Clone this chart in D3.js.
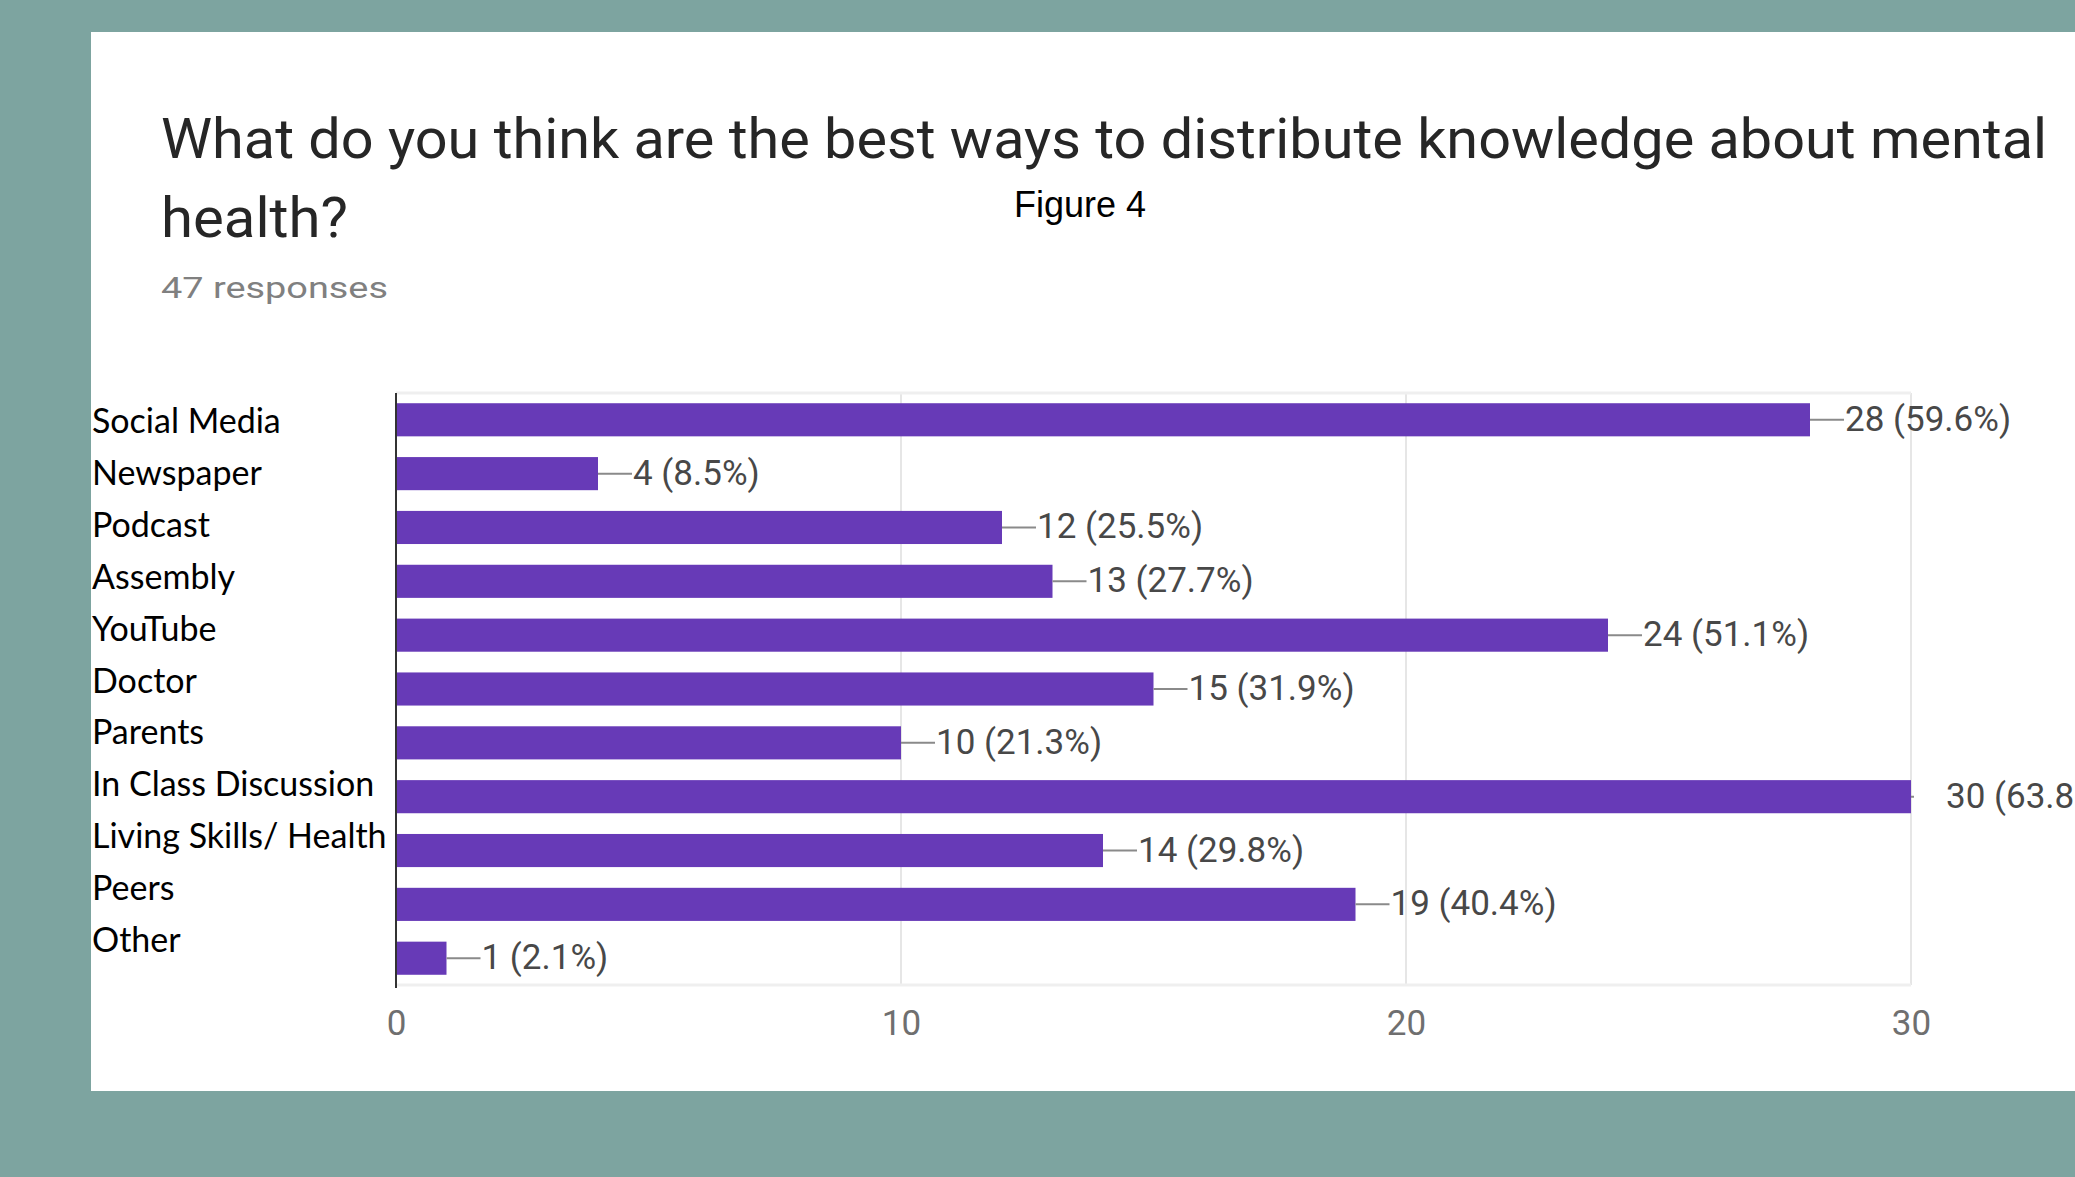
<!DOCTYPE html>
<html>
<head>
<meta charset="utf-8">
<script src="https://cdn.jsdelivr.net/npm/d3@7/dist/d3.min.js"></script>
<style>
  html, body { margin: 0; padding: 0; background: #7da4a0; }
  svg { display: block; }
</style>
</head>
<body>
<svg id="chart" width="2075" height="1177"></svg>
<script>
// Survey answers: number of respondents choosing each channel
const categories = ["Social Media", "Newspaper", "Podcast", "Assembly", "YouTube", "Doctor",
                    "Parents", "In Class Discussion", "Living Skills/ Health", "Peers", "Other"];
const counts = [28, 4, 12, 13, 24, 15, 10, 30, 14, 19, 1];
const percents = ["59.6%", "8.5%", "25.5%", "27.7%", "51.1%", "31.9%", "21.3%", "63.8%", "29.8%", "40.4%", "2.1%"];
const xTicks = [0, 10, 20, 30];
const totalResponses = 47;

const svg = d3.select("#chart");

// white card
svg.append("rect").attr("x", 91).attr("y", 32).attr("width", 2075 - 91).attr("height", 1091 - 32)
  .attr("fill", "#ffffff");

// heading
const titleFont = "Roboto, 'Liberation Sans', sans-serif";
svg.append("text").attr("x", 161).attr("y", 158)
  .attr("font-family", titleFont).attr("font-size", 56).attr("fill", "#262626")
  .attr("textLength", 1886).attr("lengthAdjust", "spacingAndGlyphs")
  .text("What do you think are the best ways to distribute knowledge about mental");
svg.append("text").attr("x", 161).attr("y", 237)
  .attr("font-family", titleFont).attr("font-size", 56).attr("fill", "#262626")
  .attr("textLength", 187).attr("lengthAdjust", "spacingAndGlyphs")
  .text("health?");
svg.append("text").attr("x", 161).attr("y", 298)
  .attr("font-family", titleFont).attr("font-size", 30).attr("fill", "#808080")
  .attr("textLength", 227).attr("lengthAdjust", "spacingAndGlyphs")
  .text(`${totalResponses} responses`);
svg.append("text").attr("x", 1080).attr("y", 217).attr("text-anchor", "middle")
  .attr("font-family", "'Liberation Sans', Arial, sans-serif").attr("font-size", 36).attr("fill", "#000")
  .text("Figure 4");

// plot area
const plot = { left: 396, right: 1911, top: 393, bottom: 985 };
const x = d3.scaleLinear().domain([0, 30]).range([plot.left, plot.right]);
const y = d3.scaleBand().domain(categories).range([plot.top, plot.bottom])
  .paddingInner(0.385).paddingOuter(0.19);
const labelY = d3.scalePoint().domain(categories).range([433, 952]);

// light frame and vertical gridlines
const grid = svg.append("g");
grid.selectAll("line.v").data(xTicks.slice(1)).join("line")
  .attr("x1", d => x(d)).attr("x2", d => x(d))
  .attr("y1", plot.top).attr("y2", plot.bottom)
  .attr("stroke", "#e6e6e6").attr("stroke-width", 2);
grid.selectAll("line.h").data([plot.top, plot.bottom]).join("line")
  .attr("x1", plot.left).attr("x2", plot.right)
  .attr("y1", d => d).attr("y2", d => d)
  .attr("stroke", "#efefef").attr("stroke-width", 3);

// x-axis tick labels
const xAxis = d3.axisBottom(x).tickValues(xTicks).tickSize(0).tickPadding(0);
const gx = svg.append("g").attr("transform", `translate(0, ${1035})`).call(xAxis);
gx.select(".domain").remove();
gx.selectAll("text").attr("dy", 0).attr("y", 0)
  .attr("font-family", titleFont).attr("font-size", 35).attr("fill", "#6f6f6f");

// bars
svg.append("g").selectAll("rect").data(categories).join("rect")
  .attr("x", x(0))
  .attr("y", d => y(d))
  .attr("width", (d, i) => x(counts[i]) - x(0))
  .attr("height", y.bandwidth())
  .attr("fill", "#673ab7");

// leader lines, cut off at the right edge of the plot
svg.append("defs").append("clipPath").attr("id", "plotClip")
  .append("rect").attr("x", plot.left).attr("y", 0).attr("width", plot.right - plot.left + 3).attr("height", 1177);
svg.append("g").attr("clip-path", "url(#plotClip)")
  .selectAll("line").data(categories).join("line")
  .attr("x1", (d, i) => x(counts[i]))
  .attr("x2", (d, i) => x(counts[i]) + 34)
  .attr("y1", d => y(d) + y.bandwidth() / 2)
  .attr("y2", d => y(d) + y.bandwidth() / 2)
  .attr("stroke", "#8a8a8a").attr("stroke-width", 2);

// value labels
svg.append("g").selectAll("text").data(categories).join("text")
  .attr("x", (d, i) => x(counts[i]) + 35)
  .attr("y", d => y(d) + y.bandwidth() / 2 + 11)
  .attr("font-family", titleFont).attr("font-size", 35).attr("fill", "#484848")
  .text((d, i) => `${counts[i]} (${percents[i]})`);

// axis line at zero
svg.append("line").attr("x1", x(0)).attr("x2", x(0))
  .attr("y1", plot.top).attr("y2", plot.bottom + 3)
  .attr("stroke", "#333").attr("stroke-width", 2);

// category labels
svg.append("g").selectAll("text").data(categories).join("text")
  .attr("x", 92)
  .attr("y", d => labelY(d))
  .attr("font-family", "Lato, 'Open Sans', sans-serif").attr("font-size", 34).attr("fill", "#000")
  .text(d => d);
</script>
</body>
</html>
